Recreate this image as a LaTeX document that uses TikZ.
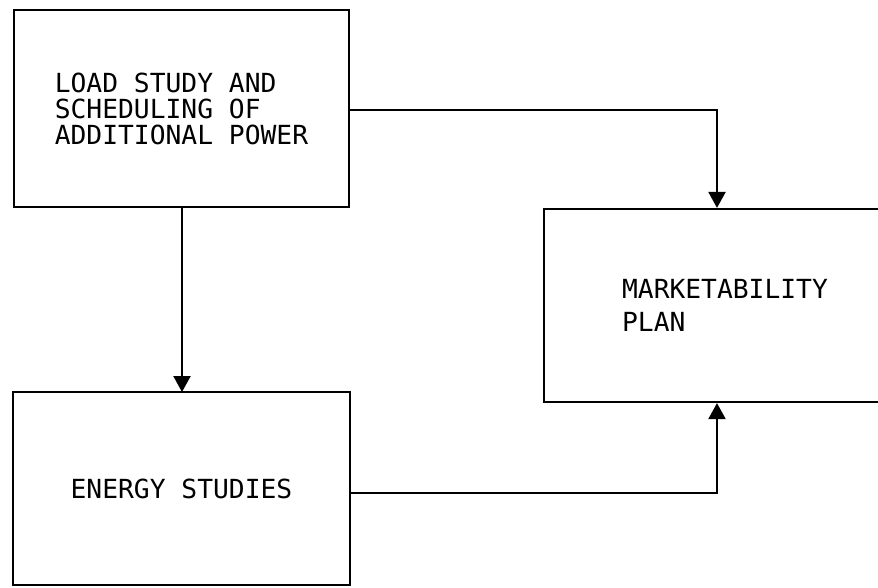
\documentclass[tikz,border=0pt]{standalone}
\usepackage{fontspec}
\newfontfamily\diagmono{DejaVu Sans Mono}
\usetikzlibrary{arrows.meta,positioning}
\begin{document}
\begin{tikzpicture}[x=1pt,y=-1pt,
  boxstyle/.style={draw,line width=2.2pt,inner sep=0pt,align=left,
    font=\diagmono\fontsize{26.3}{26}\selectfont},
  arr/.style={line width=2.2pt,-{Triangle[width=17pt,length=16pt]}}]
\useasboundingbox (0,0) rectangle (878,587);
\clip (0,0) rectangle (878,587);
\fill[white] (0,0) rectangle (878,587);
\node[boxstyle,minimum width=335pt,minimum height=197pt] (b1) at (181.5,108.5)
  {LOAD STUDY AND\\SCHEDULING OF\\ADDITIONAL POWER};
\node[boxstyle,minimum width=337pt,minimum height=193pt] (b2) at (181.5,488.5)
  {ENERGY STUDIES};
\node[boxstyle,minimum width=362pt,minimum height=193pt,
  font=\diagmono\fontsize{26.3}{33}\selectfont] (b3) at (725,305.5)
  {MARKETABILITY\\PLAN};
\coordinate (c1) at (717,110);
\coordinate (c3) at (717,493);
\draw[arr] (b1.east |- c1) -| (c1 |- b3.north);
\draw[arr] (182,207) -- (182,392);
\draw[arr] (b2.east |- c3) -| (c3 |- b3.south);
\end{tikzpicture}
\end{document}
